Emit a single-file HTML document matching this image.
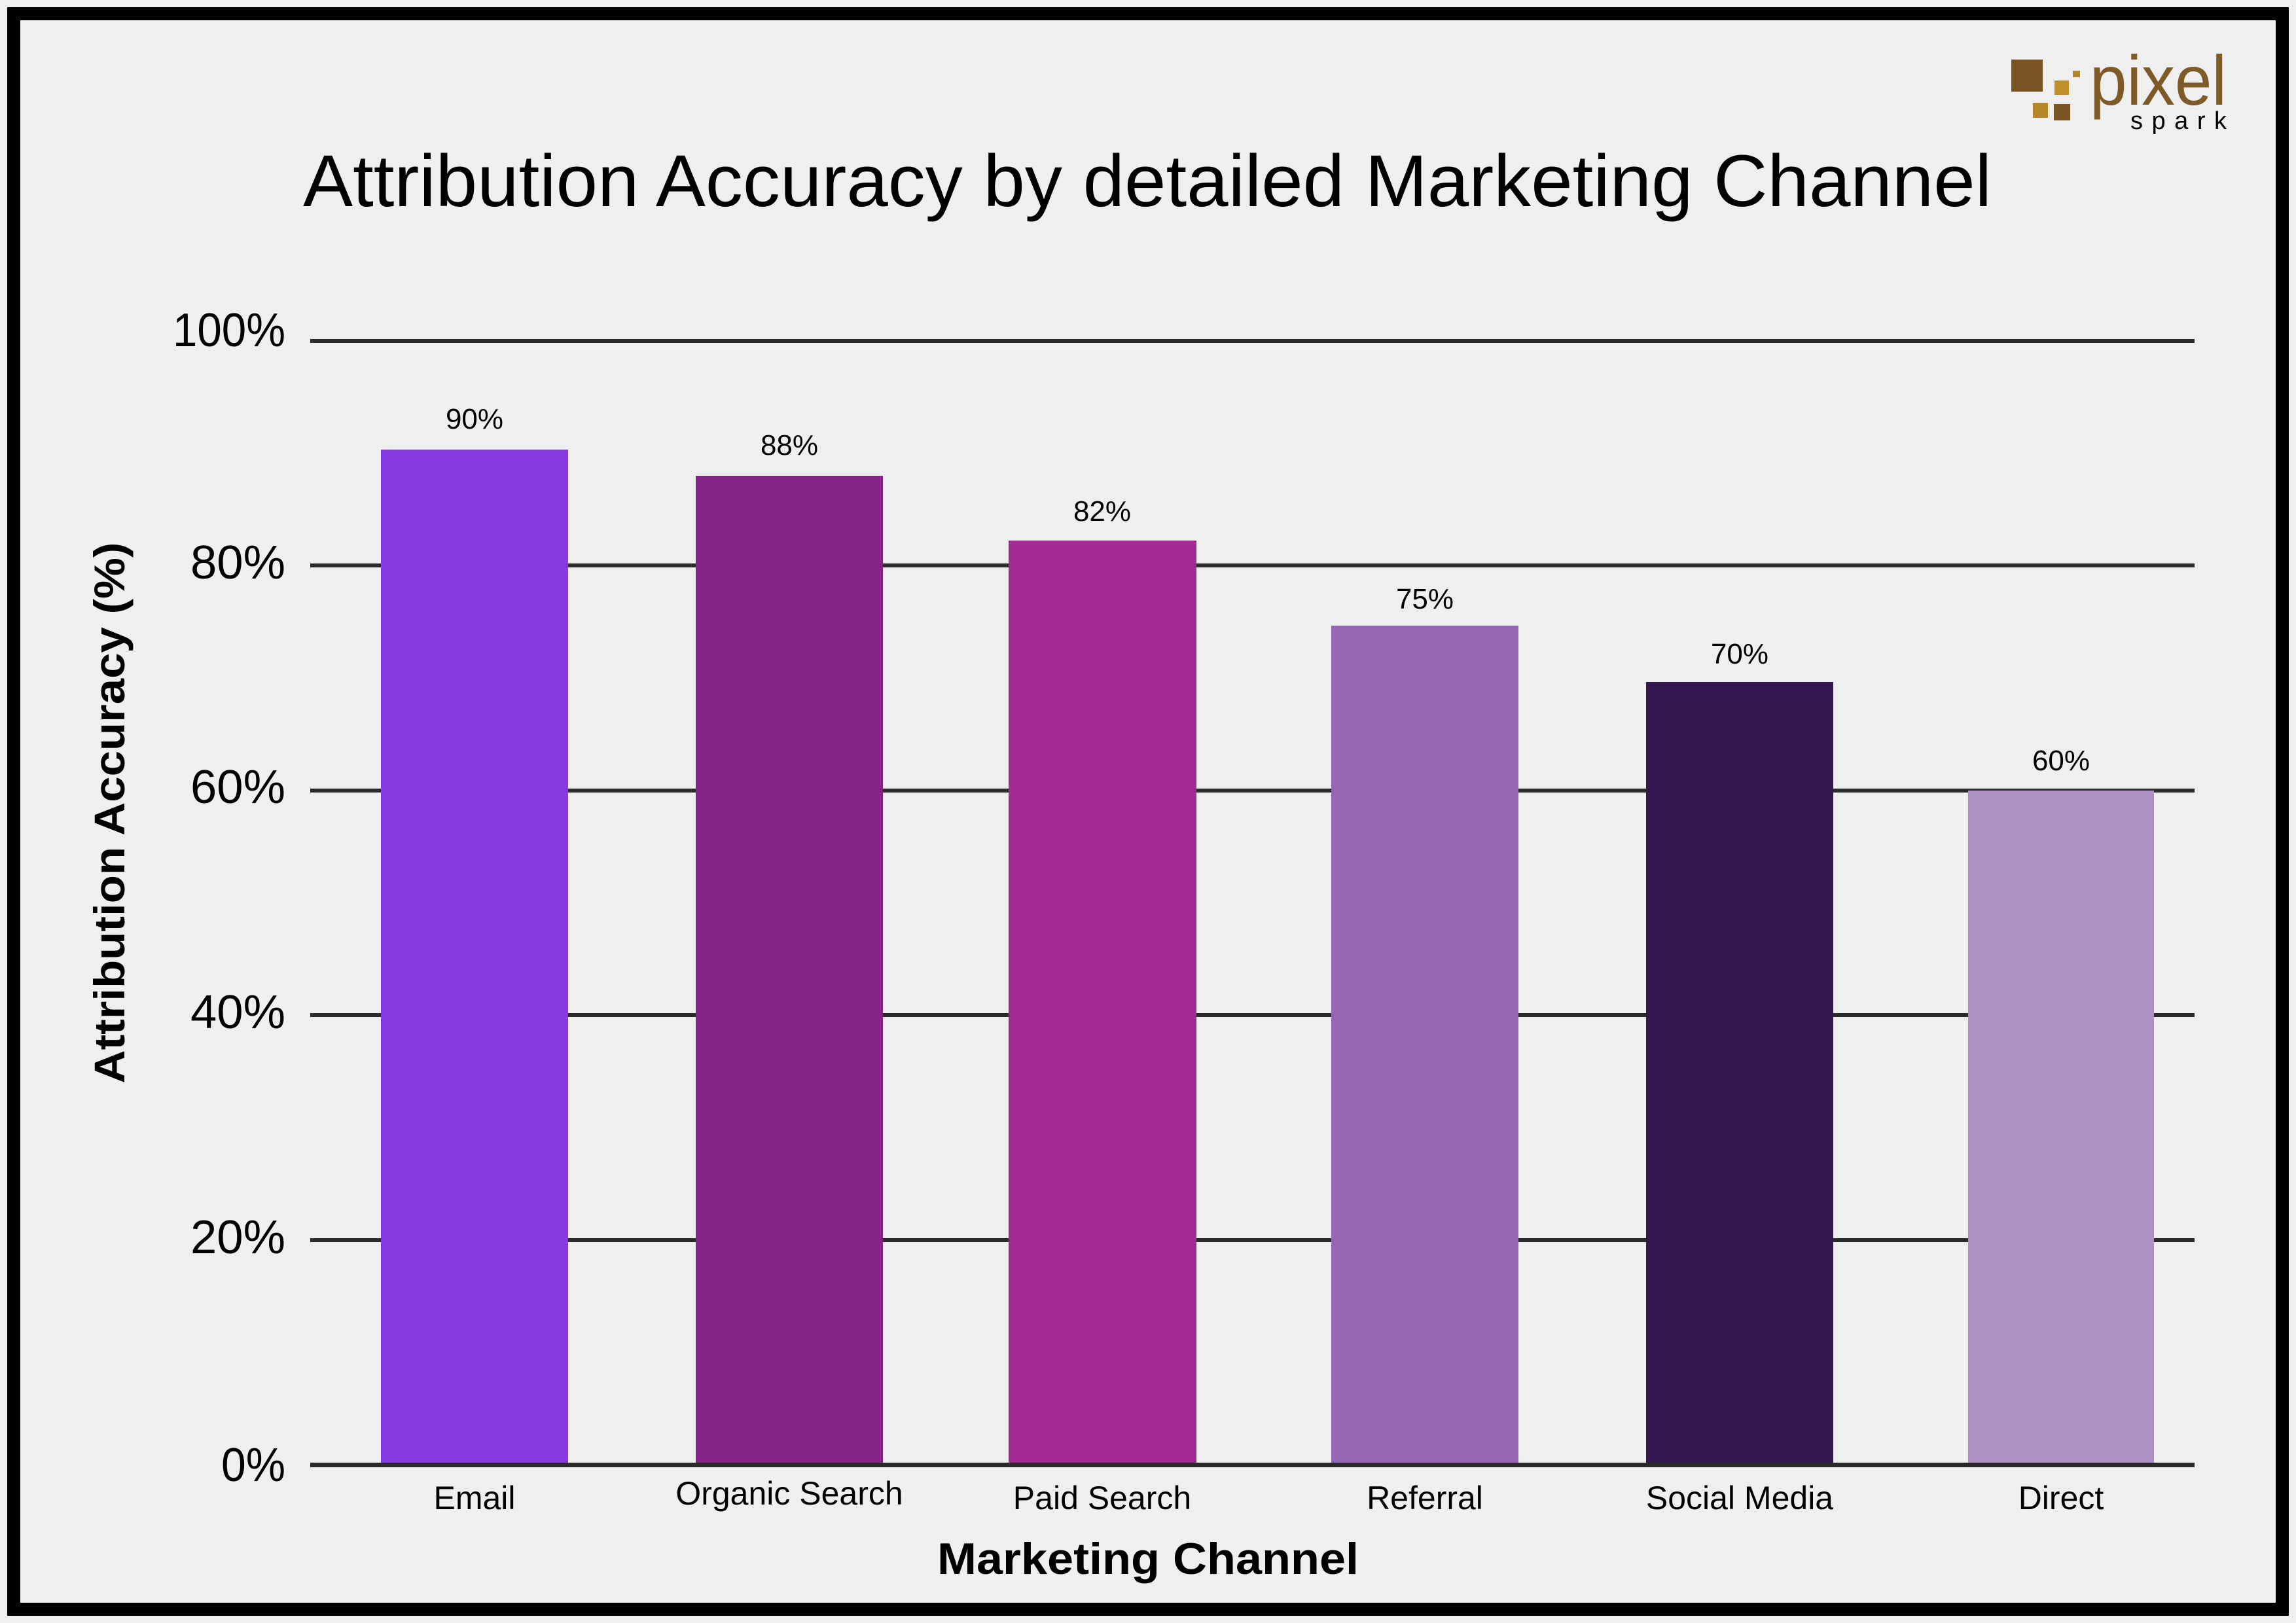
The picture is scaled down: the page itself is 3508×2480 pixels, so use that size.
<!DOCTYPE html>
<html><head><meta charset="utf-8"><style>
html,body{margin:0;padding:0;background:#efefef;}
svg{display:block;}
text{font-family:"Liberation Sans",sans-serif;fill:#000;}
</style></head><body>
<svg width="3508" height="2480" viewBox="0 0 3508 2480" xmlns="http://www.w3.org/2000/svg">
<rect x="0" y="0" width="3508" height="2480" fill="#efefef"/>
<rect x="21" y="21" width="3466" height="2438" fill="#efefef" stroke="#000" stroke-width="20"/>
<!-- logo -->
<rect x="3073" y="91" width="48" height="49" fill="#7a5524"/>
<rect x="3167" y="108" width="11" height="10" fill="#b8862a"/>
<rect x="3139" y="123" width="22" height="22" fill="#c08f2a"/>
<rect x="3106" y="157" width="23" height="23" fill="#b8862a"/>
<rect x="3138" y="159" width="25" height="25" fill="#7a5524"/>
<text x="3193" y="160" font-size="108" style="fill:#7e5a28" textLength="209" lengthAdjust="spacingAndGlyphs">pixel</text>
<text x="3255" y="197" font-size="38" textLength="147" lengthAdjust="spacing">spark</text>
<!-- title -->
<text x="463" y="315" font-size="112" textLength="2580" lengthAdjust="spacingAndGlyphs">Attribution Accuracy by detailed Marketing Channel</text>
<!-- grid -->
<g fill="#2a2a2a">
<rect x="474" y="518" width="2879" height="6"/>
<rect x="474" y="861" width="2879" height="6"/>
<rect x="474" y="1205" width="2879" height="6"/>
<rect x="474" y="1548" width="2879" height="6"/>
<rect x="474" y="1892" width="2879" height="6"/>
</g>
<!-- y tick labels -->
<g font-size="72">
<text x="264" y="529" textLength="172" lengthAdjust="spacingAndGlyphs">100%</text>
<text x="291" y="884" textLength="145" lengthAdjust="spacingAndGlyphs">80%</text>
<text x="291" y="1227" textLength="145" lengthAdjust="spacingAndGlyphs">60%</text>
<text x="291" y="1571" textLength="145" lengthAdjust="spacingAndGlyphs">40%</text>
<text x="291" y="1915" textLength="145" lengthAdjust="spacingAndGlyphs">20%</text>
<text x="338" y="2263" textLength="98" lengthAdjust="spacingAndGlyphs">0%</text>
</g>
<!-- bars -->
<rect x="582" y="687" width="286" height="1551" fill="#8639e0"/>
<rect x="1063" y="727" width="286" height="1511" fill="#862386"/>
<rect x="1541" y="826" width="287" height="1412" fill="#a22a92"/>
<rect x="2034" y="956" width="286" height="1282" fill="#9466b3"/>
<rect x="2515" y="1042" width="286" height="1196" fill="#33184e"/>
<rect x="3007" y="1208" width="284" height="1030" fill="#ae90c4"/>
<rect x="474" y="2235" width="2879" height="7" fill="#2a2a2a"/>
<!-- value labels -->
<g font-size="44" text-anchor="middle">
<text x="725" y="655">90%</text>
<text x="1206" y="695">88%</text>
<text x="1684" y="796">82%</text>
<text x="2177" y="930">75%</text>
<text x="2658" y="1014">70%</text>
<text x="3149" y="1177">60%</text>
</g>
<!-- x labels -->
<g font-size="50" text-anchor="middle">
<text x="725" y="2306">Email</text>
<text x="1206" y="2299">Organic Search</text>
<text x="1684" y="2306">Paid Search</text>
<text x="2177" y="2306">Referral</text>
<text x="2658" y="2306">Social Media</text>
<text x="3149" y="2306">Direct</text>
</g>
<text x="1754" y="2405" font-size="68" font-weight="bold" text-anchor="middle" textLength="644" lengthAdjust="spacingAndGlyphs">Marketing Channel</text>
<text transform="translate(190,1242) rotate(-90)" font-size="66" font-weight="bold" text-anchor="middle" textLength="827" lengthAdjust="spacingAndGlyphs">Attribution Accuracy (%)</text>
</svg>
</body></html>
